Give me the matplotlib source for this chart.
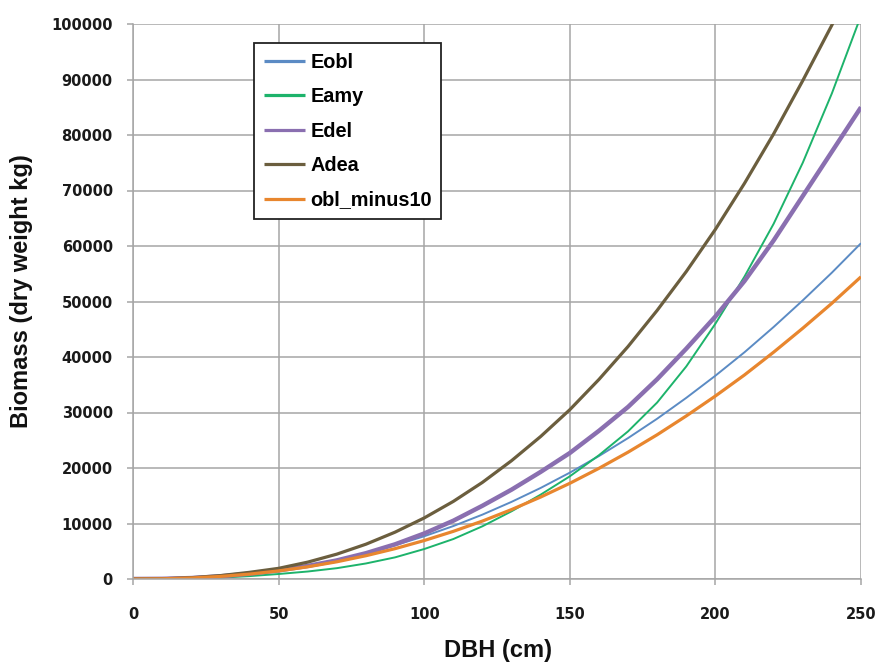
import matplotlib
matplotlib.use("Agg")
import matplotlib.pyplot as plt
from matplotlib import ticker

# ---- data ----
dbh = [0, 10, 20, 30, 40, 50, 60, 70, 80, 90, 100, 110, 120, 130, 140, 150,
       160, 170, 180, 190, 200, 210, 220, 230, 240, 250]

eobl = [0, 43, 206, 514, 981, 1619, 2440, 3448, 4662, 6075, 7700, 9540, 11600,
        13900, 16410, 19160, 22150, 25390, 28880, 32640, 36630, 40860, 45410,
        50200, 55200, 60500]

eamy = [0, 10, 80, 240, 520, 900, 1350, 1950, 2800, 3900, 5400, 7200, 9500,
        12200, 15200, 18500, 22300, 26600, 31800, 38300, 46000, 54500, 64000,
        75000, 87500, 101500]

edel = [0, 30, 170, 480, 950, 1550, 2350, 3350, 4650, 6250, 8200, 10500, 13200,
        16100, 19300, 22700, 26700, 31000, 36000, 41500, 47300, 53700, 61000,
        69000, 77000, 85000]

adea = [0, 40, 230, 610, 1200, 1920, 3040, 4480, 6270, 8440, 11000, 13980, 17410,
        21320, 25680, 30500, 35950, 41890, 48400, 55400, 63000, 71300, 80200,
        89800, 99800, 110800]

obl_minus10 = [0, 39, 185, 463, 883, 1457, 2196, 3103, 4196, 5468, 6930, 8586,
               10440, 12510, 14770, 17240, 19940, 22850, 25990, 29380, 32970,
               36770, 40870, 45180, 49680, 54450]

series_names = ["Eobl", "Eamy", "Edel", "Adea", "obl_minus10"]
series_values = [eobl, eamy, edel, adea, obl_minus10]
series_colors = ["#5B8BC4", "#1DB36B", "#8A6FB0", "#6B5E3E", "#E8862E"]
series_widths = [1.4, 1.4, 3.2, 2.3, 2.3]

x_ticks = [0, 50, 100, 150, 200, 250]
y_ticks = [0, 10000, 20000, 30000, 40000, 50000, 60000, 70000, 80000, 90000, 100000]

# ---- figure ----
W, H = 878, 664
fig = plt.figure(figsize=(W / 100, H / 100), dpi=100)
ax = fig.add_axes([133 / W, 1 - 579 / H, (861 - 133) / W, (579 - 24) / H])

grid_color = "#A6A6A6"
for name, vals, col, lw in zip(series_names, series_values, series_colors, series_widths):
    ax.plot(dbh, vals, color=col, lw=lw, label=name, solid_capstyle="butt")

ax.set_xlim(0, 250)
ax.set_ylim(0, 100000)
ax.set_xticks(x_ticks)
ax.set_yticks(y_ticks)
ax.xaxis.set_major_formatter(ticker.StrMethodFormatter("{x:.0f}"))
ax.yaxis.set_major_formatter(ticker.StrMethodFormatter("{x:.0f}"))

ax.grid(True, color=grid_color, lw=1.1)
ax.set_axisbelow(True)
for s in ax.spines.values():
    s.set_color(grid_color)
    s.set_linewidth(1.1)
ax.spines["top"].set_visible(False)
ax.spines["right"].set_visible(False)

ax.tick_params(axis="both", direction="out", length=4.5, width=1.1, color=grid_color,
               labelsize=10.5, labelcolor="#1a1a1a")
ax.tick_params(axis="y", pad=10)
ax.tick_params(axis="x", pad=16)
for lab in ax.get_xticklabels() + ax.get_yticklabels():
    lab.set_fontfamily("DejaVu Sans")
    lab.set_fontweight("bold")

fig.text(498 / W, 1 - 651 / H, "DBH (cm)", ha="center", va="center",
         fontsize=17, fontweight="bold", family="Liberation Sans", color="#111111")
fig.text(22 / W, 1 - 291 / H, "Biomass (dry weight kg)", ha="center", va="center",
         rotation=90, fontsize=17, fontweight="bold", family="Liberation Sans",
         color="#111111")

leg = ax.legend(loc="upper left", bbox_to_anchor=(254 / W, 1 - 43 / H),
                bbox_transform=fig.transFigure, borderaxespad=0,
                prop={"family": "Liberation Sans", "weight": "bold", "size": 14.3},
                handlelength=2.1, handletextpad=0.25, labelspacing=0.78,
                borderpad=0.48, fancybox=False, framealpha=1, edgecolor="#222222")
leg.get_frame().set_linewidth(1.3)
for h in leg.get_lines():
    h.set_linewidth(2.3)

fig.savefig("out.png", dpi=100)
